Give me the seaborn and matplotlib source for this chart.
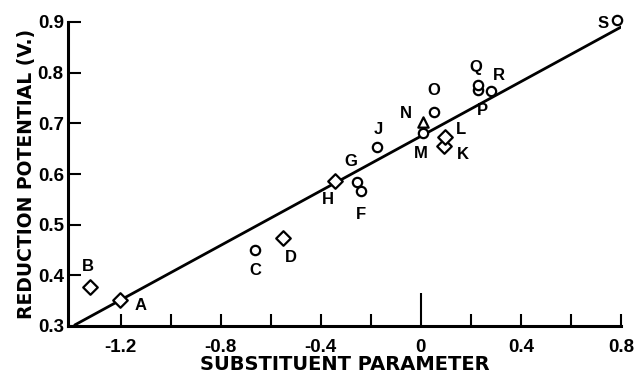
import matplotlib
matplotlib.use("Agg")
import matplotlib.pyplot as plt
import seaborn as sns
import pandas as pd
from matplotlib.ticker import FixedLocator

sns.set_theme(style="ticks")
plt.rcParams['font.family'] = ['Liberation Sans', 'DejaVu Sans']

# Data
labels  = ["A", "B", "C", "D", "H", "F", "F", "J", "M", "N", "O", "K", "L", "P", "Q", "R", "S"]
x_vals  = [-1.203, -1.323, -0.663, -0.551, -0.343, -0.255, -0.239, -0.175, 0.010, 0.010, 0.053, 0.093, 0.097, 0.229, 0.229, 0.281, 0.786]
y_vals  = [0.351, 0.377, 0.450, 0.474, 0.586, 0.584, 0.566, 0.653, 0.681, 0.702, 0.722, 0.655, 0.673, 0.766, 0.775, 0.763, 0.904]
shapes  = ["diamond", "diamond", "circle", "diamond", "diamond", "circle", "circle", "circle", "circle", "triangle",
           "circle", "diamond", "diamond", "circle", "circle", "circle", "circle"]

line_x = [-1.383, 0.80]
line_y = [0.302, 0.890]

# text labels (letter, x, y)
text_labels = ["A", "B", "C", "D", "H", "F", "G", "J", "M", "N", "O", "K", "L", "P", "Q", "R", "S"]
text_x = [-1.12, -1.33, -0.66, -0.52, -0.37, -0.24, -0.28, -0.17, 0.00, -0.06, 0.05, 0.17, 0.16, 0.245, 0.22, 0.31, 0.73]
text_y = [0.340, 0.418, 0.410, 0.435, 0.550, 0.520, 0.625, 0.688, 0.641, 0.720, 0.764, 0.639, 0.688, 0.725, 0.810, 0.794, 0.898]

xticks_major = [-1.2, -0.8, -0.4, 0, 0.4, 0.8]
xtick_labels = ["-1.2", "-0.8", "-0.4", "0", "0.4", "0.8"]
xticks_minor = [-1.0, -0.6, -0.2, 0.2, 0.6]
yticks = [0.3, 0.4, 0.5, 0.6, 0.7, 0.8, 0.9]
ytick_labels = ["0.3", "0.4", "0.5", "0.6", "0.7", "0.8", "0.9"]

df = pd.DataFrame({"x": x_vals, "y": y_vals, "shape": shapes})
line_df = pd.DataFrame({"x": line_x, "y": line_y})

fig = plt.figure(figsize=(6.37, 3.80), dpi=100)
ax = fig.add_axes([68/637, 54/380, 553/637, 304/380])

sns.lineplot(data=line_df, x="x", y="y", ax=ax, color="black", linewidth=2.0, zorder=2)

marker_map = {"diamond": "D", "circle": "o", "triangle": "^"}
size_map = {"diamond": 55, "circle": 45, "triangle": 55}
for shp in ["diamond", "circle", "triangle"]:
    sub = df[df["shape"] == shp]
    sns.scatterplot(data=sub, x="x", y="y", ax=ax, marker=marker_map[shp], s=size_map[shp],
                    facecolor="white", edgecolor="black", linewidth=1.6, zorder=3, clip_on=False)

for t, tx, ty in zip(text_labels, text_x, text_y):
    ax.text(tx, ty, t, fontsize=12, fontweight="bold", ha="center", va="center", color="black")

ax.set_xlim(-1.41, 0.80)
ax.set_ylim(0.3, 0.9)
ax.xaxis.set_major_locator(FixedLocator(xticks_major))
ax.set_xticklabels(xtick_labels)
ax.xaxis.set_minor_locator(FixedLocator(xticks_minor))
ax.set_yticks(yticks)
ax.set_yticklabels(ytick_labels)
ax.tick_params(axis="both", which="both", direction="in", width=1.5, length=9, labelsize=13.5, colors="black")
ax.tick_params(axis="x", pad=9)
ax.tick_params(axis="y", pad=3)
# longer tick at zero
ax.xaxis.get_major_ticks()[3].tick1line.set_markersize(24)
for lab in ax.get_xticklabels() + ax.get_yticklabels():
    lab.set_fontweight("bold")

sns.despine(ax=ax, top=True, right=True)
for sp in ["left", "bottom"]:
    ax.spines[sp].set_linewidth(2.2)
    ax.spines[sp].set_color("black")

ax.set_xlabel("SUBSTITUENT PARAMETER", fontsize=14, fontweight="bold", labelpad=0,
              color="black", family="DejaVu Sans")
ax.set_ylabel("REDUCTION POTENTIAL (V.)", fontsize=13.5, fontweight="bold", labelpad=1,
              color="black", family="DejaVu Sans")

fig.savefig("out.png", dpi=100)
